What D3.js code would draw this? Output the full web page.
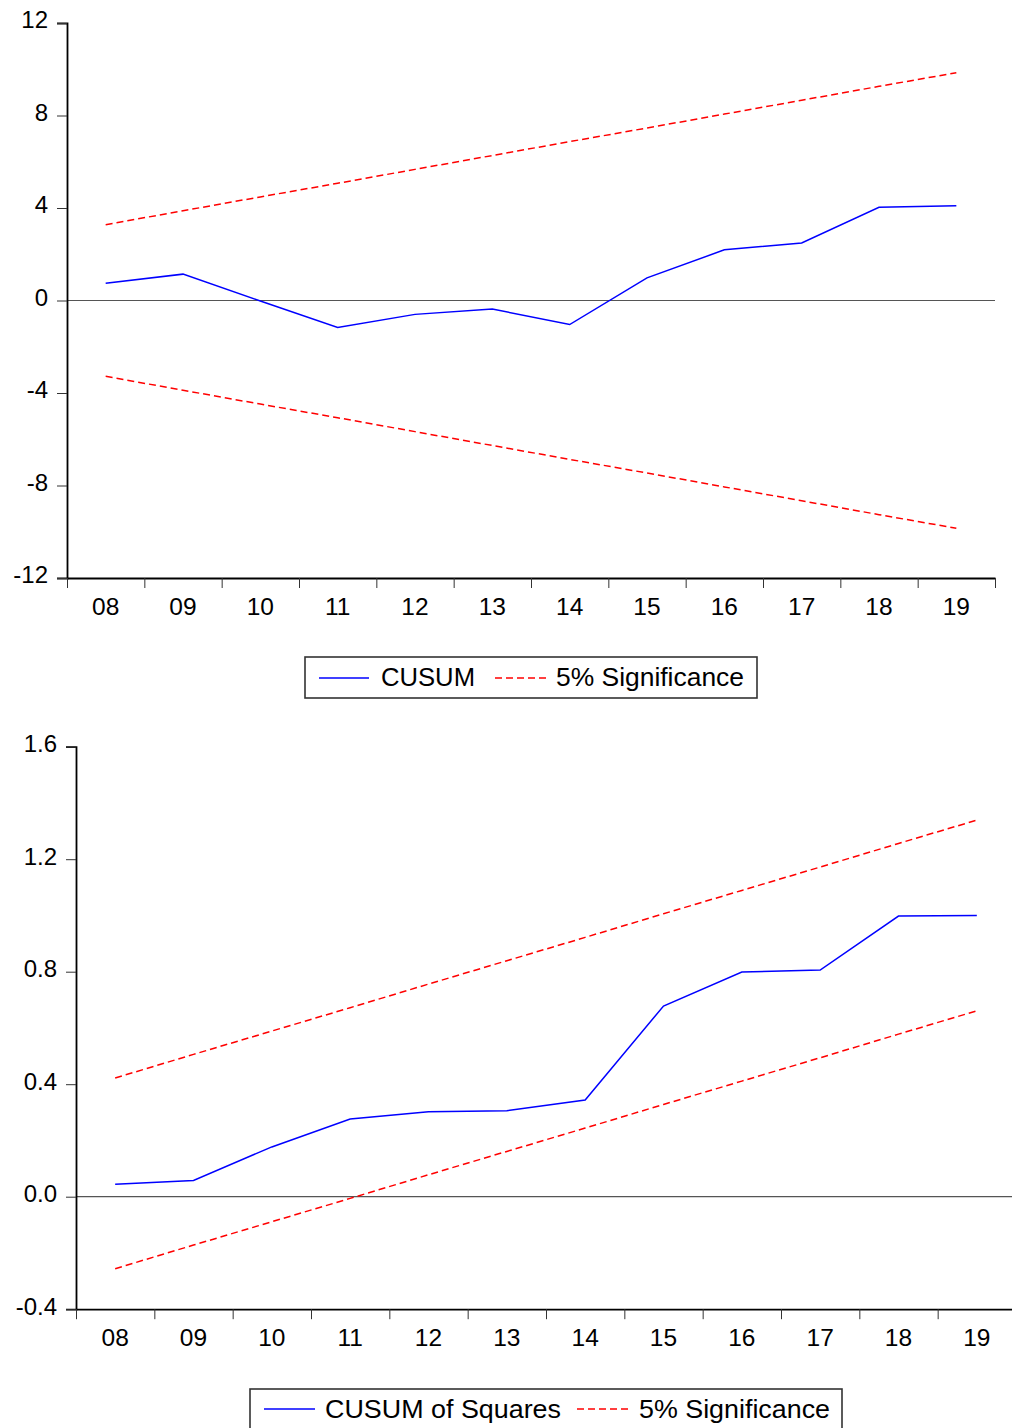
<!DOCTYPE html>
<html>
<head>
<meta charset="utf-8">
<script src="https://cdn.jsdelivr.net/npm/d3@7"></script>
<style>
  html, body { margin: 0; padding: 0; background: #fff; }
  svg { display: block; }
  text { font-family: "Liberation Sans", Arial, sans-serif; fill: #000; }
</style>
</head>
<body>
<svg id="chart" width="1012" height="1428"></svg>
<script>
// Observation labels (years 2008-2019)
const years = ["08", "09", "10", "11", "12", "13", "14", "15", "16", "17", "18", "19"];

// CUSUM test
const cusum      = [0.75, 1.14, -0.02, -1.17, -0.60, -0.37, -1.04, 0.98, 2.19, 2.49, 4.03, 4.10];
const cusumUpper = [3.28, 3.88, 4.48, 5.07, 5.67, 6.27, 6.87, 7.46, 8.06, 8.66, 9.26, 9.85];
const cusumLower = [-3.28, -3.88, -4.48, -5.07, -5.67, -6.27, -6.87, -7.46, -8.06, -8.66, -9.26, -9.85];
const cusumTicks = [12, 8, 4, 0, -4, -8, -12];
const cusumTickLabels = ["12", "8", "4", "0", "-4", "-8", "-12"];

// CUSUM of squares test
const cusumSq      = [0.044, 0.058, 0.177, 0.276, 0.302, 0.306, 0.344, 0.678, 0.799, 0.806, 0.998, 1.000];
const cusumSqUpper = [0.422, 0.506, 0.589, 0.672, 0.756, 0.839, 0.922, 1.006, 1.089, 1.172, 1.256, 1.339];
const cusumSqLower = [-0.256, -0.172, -0.089, -0.006, 0.078, 0.161, 0.244, 0.328, 0.411, 0.494, 0.578, 0.661];
const cusumSqTicks = [1.6, 1.2, 0.8, 0.4, 0.0, -0.4];
const cusumSqTickLabels = ["1.6", "1.2", "0.8", "0.4", "0.0", "-0.4"];

const svg = d3.select("#chart");

function panel(cfg) {
  const g = svg.append("g");
  const n = years.length;
  const x = d3.scaleLinear().domain([0, n]).range([cfg.left, cfg.right]);
  const y = d3.scaleLinear().domain(cfg.yDomain).range([cfg.bottom, cfg.top]);
  const px = (d, i) => x(i + 0.5);

  // zero reference line
  g.append("line")
    .attr("x1", cfg.left).attr("x2", cfg.right)
    .attr("y1", y(0)).attr("y2", y(0))
    .attr("stroke", "#555").attr("stroke-width", 1.2);

  // y axis
  const yAxis = d3.axisLeft(y)
    .tickValues(cfg.ticks)
    .tickFormat((d, i) => cfg.tickLabels[i])
    .tickSize(10).tickPadding(9);
  const ya = g.append("g").attr("transform", `translate(${cfg.left},0)`).call(yAxis);
  ya.select(".domain").attr("stroke", "#000").attr("stroke-width", 1.8);
  ya.selectAll(".tick line").attr("stroke", "#333").attr("stroke-width", 1);
  ya.selectAll(".tick text")
    .attr("font-size", 24).attr("dy", "0.2em")
    .style("font-family", "Liberation Sans, Arial, sans-serif").attr("fill", "#000");

  // x axis with ticks at period boundaries, labels centred in each period
  const xAxis = d3.axisBottom(x)
    .tickValues(d3.range(n + 1))
    .tickFormat("")
    .tickSize(10).tickSizeOuter(0);
  const xa = g.append("g").attr("transform", `translate(0,${cfg.bottom})`).call(xAxis);
  xa.select(".domain").attr("stroke", "#000").attr("stroke-width", 1.8);
  xa.selectAll(".tick line").attr("stroke", "#333").attr("stroke-width", 1);

  g.selectAll(".xlab").data(years).enter().append("text")
    .attr("class", "xlab")
    .attr("x", px).attr("y", cfg.bottom + 37)
    .attr("text-anchor", "middle").attr("font-size", 24.5)
    .text(d => d);

  const line = d3.line().x(px).y(d => y(d));

  [cfg.upper, cfg.lower].forEach(s => {
    g.append("path").datum(s)
      .attr("d", line).attr("fill", "none")
      .attr("stroke", "#ff0000").attr("stroke-width", 1.5)
      .attr("stroke-dasharray", "7,4");
  });
  g.append("path").datum(cfg.series)
    .attr("d", line).attr("fill", "none")
    .attr("stroke", "#0000ff").attr("stroke-width", 1.5);

  // legend
  const L = cfg.legend;
  const lg = svg.append("g");
  lg.append("rect")
    .attr("x", L.x).attr("y", L.y).attr("width", L.w).attr("height", L.h)
    .attr("fill", "#fff").attr("stroke", "#333").attr("stroke-width", 1.6);
  lg.append("line")
    .attr("x1", L.l1[0]).attr("x2", L.l1[1]).attr("y1", L.ly).attr("y2", L.ly)
    .attr("stroke", "#0000ff").attr("stroke-width", 1.5);
  lg.append("text").attr("x", L.t1).attr("y", L.ly + L.tb).attr("font-size", 26)
    .attr("textLength", L.t1w).attr("lengthAdjust", "spacingAndGlyphs")
    .text(cfg.seriesName);
  lg.append("line")
    .attr("x1", L.l2[0]).attr("x2", L.l2[1]).attr("y1", L.ly).attr("y2", L.ly)
    .attr("stroke", "#ff0000").attr("stroke-width", 1.5)
    .attr("stroke-dasharray", "7,4");
  lg.append("text").attr("x", L.t2).attr("y", L.ly + L.tb).attr("font-size", 26)
    .attr("textLength", L.t2w).attr("lengthAdjust", "spacingAndGlyphs")
    .text("5% Significance");
}

panel({
  left: 67, right: 995, top: 23, bottom: 578,
  yDomain: [-12, 12], ticks: cusumTicks, tickLabels: cusumTickLabels,
  series: cusum, upper: cusumUpper, lower: cusumLower,
  seriesName: "CUSUM",
  legend: { x: 305, y: 657, w: 452, h: 41, ly: 678, tb: 8,
            l1: [319, 369], t1: 381, t1w: 94,
            l2: [495, 546], t2: 556, t2w: 188 }
});

panel({
  left: 76, right: 1016, top: 746.7, bottom: 1309.2,
  yDomain: [-0.4, 1.6], ticks: cusumSqTicks, tickLabels: cusumSqTickLabels,
  series: cusumSq, upper: cusumSqUpper, lower: cusumSqLower,
  seriesName: "CUSUM of Squares",
  legend: { x: 250, y: 1389, w: 592, h: 50, ly: 1409, tb: 9,
            l1: [264, 315], t1: 325, t1w: 236,
            l2: [577, 629], t2: 639, t2w: 191 }
});
</script>
</body>
</html>
